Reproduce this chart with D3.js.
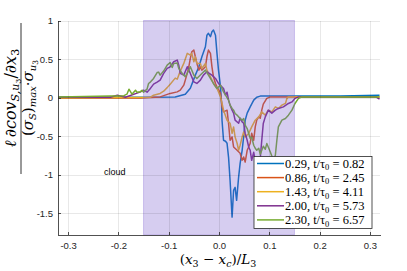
<!DOCTYPE html>
<html lang="en">
<head>
  <meta charset="UTF-8">
  <title>Normalised gradient of scalar-velocity covariance</title>
  <style>
    body { margin: 0; background: #fff; }
    svg { display: block; }
    .tick text { font-family: "Liberation Sans", Arial, sans-serif; font-size: 9.5px; fill: #262626; }
    .axis path, .axis line { stroke: #262626; stroke-width: 0.8; shape-rendering: crispEdges; }
    .grid line { stroke: #000; stroke-opacity: 0.09; shape-rendering: crispEdges; }
    .grid path { display: none; }
    .math { font-family: "Liberation Serif", "DejaVu Serif", serif; fill: #000; }
    .label { font-family: "DejaVu Serif", serif; fill: #000; }
  </style>
  <script src="https://d3js.org/d3.v7.min.js"></script>
</head>
<body>
<svg id="chart" width="407" height="271"></svg>
<script>
  // tick labels
  const xTicks = [-0.3, -0.2, -0.1, 0.0, 0.1, 0.2, 0.3];
  const xTickLabels = ["-0.3", "-0.2", "-0.1", "0.0", "0.1", "0.2", "0.3"];
  const yTicks = [1, 0.5, 0, -0.5, -1, -1.5];
  const yTickLabels = ["1", "0.5", "0", "-0.5", "-1", "-1.5"];

  // cloud region (shaded)
  const cloudRange = [-0.15, 0.15];

  // legend labels
  const seriesNames = ["0.29", "0.86", "1.43", "2.00", "2.30"];
  const seriesTimes = ["0.82", "2.45", "4.11", "5.73", "6.57"];

  // series values
  const blueX = [-0.319, -0.136, -0.087, -0.067, -0.057, -0.047, -0.040, -0.034, -0.027, -0.024, -0.021, -0.017, -0.014, -0.011, -0.007, -0.004, -0.001, 0.003, 0.005, 0.006, 0.009, 0.013, 0.016, 0.019, 0.022, 0.026, 0.029, 0.032, 0.035, 0.039, 0.042, 0.046, 0.049, 0.052, 0.056, 0.062, 0.069, 0.075, 0.082, 0.161, 0.241, 0.319];
  const blueY = [0.005, 0.005, 0.008, 0.045, 0.123, 0.292, 0.40, 0.53, 0.66, 0.81, 0.834, 0.79, 0.855, 0.877, 0.81, 0.574, 0.357, 0.14, -0.071, -0.292, -0.552, -0.565, -0.591, -0.773, -1.071, -1.548, -1.201, -1.162, -1.331, -1.029, -0.851, -0.682, -0.509, -0.292, -0.201, -0.119, -0.032, 0.006, 0.02, 0.02, 0.022, 0.032];

  const redX = [-0.319, -0.156, -0.117, -0.097, -0.083, -0.077, -0.070, -0.067, -0.063, -0.060, -0.057, -0.054, -0.050, -0.047, -0.044, -0.040, -0.037, -0.034, -0.027, -0.024, -0.021, -0.017, -0.014, -0.011, -0.007, -0.004, 0.003, 0.006, 0.009, 0.016, 0.019, 0.022, 0.026, 0.029, 0.036, 0.042, 0.046, 0.049, 0.052, 0.056, 0.059, 0.062, 0.065, 0.069, 0.072, 0.075, 0.079, 0.082, 0.085, 0.088, 0.095, 0.102, 0.201, 0.319];
  const redY = [-0.006, -0.006, 0.01, 0.055, 0.075, 0.097, 0.162, 0.227, 0.318, 0.40, 0.509, 0.595, 0.617, 0.53, 0.444, 0.357, 0.40, 0.357, 0.40, 0.53, 0.617, 0.574, 0.40, 0.27, 0.184, 0.14, 0.055, -0.119, -0.184, -0.162, -0.335, -0.552, -0.509, -0.639, -0.682, -0.721, -0.812, -0.769, -0.834, -0.682, -0.639, -0.591, -0.461, -0.552, -0.379, -0.292, -0.249, -0.266, -0.162, -0.084, -0.01, 0.01, 0.01, 0.01];

  const orangeX = [-0.319, -0.136, -0.130, -0.117, -0.110, -0.103, -0.097, -0.087, -0.083, -0.077, -0.070, -0.063, -0.057, -0.054, -0.050, -0.047, -0.044, -0.037, -0.034, -0.027, -0.024, -0.017, -0.011, -0.004, -0.001, 0.003, 0.006, 0.009, 0.016, 0.022, 0.026, 0.029, 0.032, 0.036, 0.039, 0.042, 0.046, 0.049, 0.052, 0.059, 0.065, 0.072, 0.079, 0.085, 0.092, 0.098, 0.105, 0.112, 0.118, 0.125, 0.132, 0.135, 0.138, 0.221, 0.319];
  const orangeY = [0, 0.006, 0.032, 0.055, 0.084, 0.13, 0.175, 0.253, 0.24, 0.344, 0.444, 0.574, 0.552, 0.574, 0.465, 0.53, 0.444, 0.444, 0.379, 0.444, 0.357, 0.27, 0.184, 0.119, 0.075, 0.01, -0.071, -0.162, -0.292, -0.331, -0.461, -0.379, -0.509, -0.591, -0.682, -0.617, -0.509, -0.444, -0.509, -0.465, -0.379, -0.292, -0.249, -0.184, -0.227, -0.162, -0.184, -0.119, -0.14, -0.097, -0.075, -0.01, 0.01, 0.01, 0.01];

  const purpleX = [-0.319, -0.216, -0.202, -0.186, -0.156, -0.150, -0.143, -0.136, -0.130, -0.123, -0.117, -0.110, -0.103, -0.097, -0.090, -0.083, -0.080, -0.077, -0.070, -0.063, -0.057, -0.050, -0.044, -0.037, -0.031, -0.024, -0.014, -0.007, -0.001, 0.009, 0.013, 0.016, 0.019, 0.022, 0.026, 0.029, 0.032, 0.039, 0.042, 0.046, 0.049, 0.052, 0.056, 0.059, 0.062, 0.065, 0.069, 0.072, 0.079, 0.082, 0.085, 0.088, 0.092, 0.098, 0.105, 0.112, 0.118, 0.128, 0.138, 0.145, 0.151, 0.158, 0.30, 0.312, 0.319];
  const purpleY = [0.006, 0.006, 0.032, 0.006, 0.075, 0.097, 0.071, 0.123, 0.175, 0.201, 0.227, 0.314, 0.379, 0.40, 0.465, 0.487, 0.422, 0.314, 0.292, 0.40, 0.314, 0.205, 0.184, 0.227, 0.292, 0.335, 0.292, 0.249, 0.184, 0.119, 0.032, 0.071, -0.032, -0.097, -0.162, -0.201, -0.292, -0.331, -0.266, -0.314, -0.331, -0.461, -0.552, -0.639, -0.682, -0.812, -0.708, -0.812, -0.89, -0.786, -0.552, -0.335, -0.249, -0.162, -0.201, -0.162, -0.14, -0.119, -0.075, -0.055, -0.01, 0.01, 0.01, 0.01, -0.02];

  const greenX = [-0.319, -0.216, -0.189, -0.183, -0.179, -0.176, -0.173, -0.166, -0.163, -0.156, -0.153, -0.150, -0.143, -0.140, -0.136, -0.130, -0.123, -0.120, -0.117, -0.110, -0.103, -0.097, -0.093, -0.090, -0.083, -0.080, -0.073, -0.067, -0.060, -0.057, -0.050, -0.044, -0.034, -0.027, -0.021, -0.011, -0.004, 0.003, 0.009, 0.013, 0.019, 0.022, 0.026, 0.029, 0.032, 0.036, 0.039, 0.046, 0.049, 0.052, 0.056, 0.059, 0.062, 0.065, 0.069, 0.072, 0.075, 0.079, 0.082, 0.085, 0.088, 0.092, 0.095, 0.102, 0.108, 0.112, 0.115, 0.118, 0.125, 0.132, 0.138, 0.145, 0.151, 0.158, 0.165, 0.319];
  const greenY = [0.01, 0.02, 0.026, 0.045, 0.11, 0.078, 0.045, 0.097, 0.071, 0.078, 0.097, 0.071, 0.11, 0.184, 0.205, 0.249, 0.325, 0.331, 0.292, 0.344, 0.422, 0.455, 0.39, 0.444, 0.448, 0.379, 0.314, 0.27, 0.357, 0.40, 0.292, 0.249, 0.314, 0.357, 0.292, 0.184, 0.119, 0.162, 0.075, 0.032, -0.032, -0.097, -0.14, -0.162, -0.205, -0.227, -0.249, -0.292, -0.27, -0.357, -0.40, -0.465, -0.526, -0.513, -0.617, -0.656, -0.682, -0.656, -0.734, -0.682, -0.63, -0.669, -0.595, -0.704, -0.812, -0.747, -0.552, -0.379, -0.292, -0.27, -0.227, -0.162, -0.075, -0.01, 0.01, 0.01];

  const seriesColors = ["#0072BD", "#D95319", "#EDB120", "#7E2F8E", "#77AC30"];

  const series = [
    {xs: blueX, ys: blueY},
    {xs: redX, ys: redY},
    {xs: orangeX, ys: orangeY},
    {xs: purpleX, ys: purpleY},
    {xs: greenX, ys: greenY}
  ].map((s, i) => ({
    name: seriesNames[i],
    time: seriesTimes[i],
    color: seriesColors[i],
    points: s.xs.map((x, j) => [x, s.ys[j]])
  }));

  const margin = {top: 20.5, right: 27, bottom: 36, left: 58};
  const width = 407, height = 271;

  const x = d3.scaleLinear()
    .domain([-0.32, 0.32])
    .range([margin.left, width - margin.right]);

  const y = d3.scaleLinear()
    .domain([-1.78, 1])
    .range([height - margin.bottom, margin.top]);

  const svg = d3.select("#chart");

  // data lines
  const line = d3.line().x(d => x(d[0])).y(d => y(d[1]));
  svg.append("g").selectAll("path")
    .data(series)
    .join("path")
    .attr("d", d => line(d.points))
    .attr("fill", "none")
    .attr("stroke", d => d.color)
    .attr("stroke-width", 1.5)
    .attr("stroke-linejoin", "round");

  // cloud patch on top of the lines (semi-transparent)
  svg.append("rect")
    .attr("x", x(cloudRange[0]))
    .attr("y", y(1))
    .attr("width", x(cloudRange[1]) - x(cloudRange[0]))
    .attr("height", y(-1.78) - y(1))
    .attr("fill", "rgb(118,88,205)")
    .attr("fill-opacity", 0.3)
    .attr("stroke", "rgb(118,88,205)")
    .attr("stroke-opacity", 0.3)
    .attr("stroke-width", 1);

  // faint grid
  const gridG = svg.append("g");
  gridG.append("g")
    .attr("class", "grid")
    .attr("transform", `translate(0,${y(-1.78)})`)
    .call(d3.axisBottom(x).tickValues(xTicks).tickSize(-(y(-1.78) - y(1))).tickFormat(""));
  gridG.append("g")
    .attr("class", "grid")
    .attr("transform", `translate(${x(-0.32)},0)`)
    .call(d3.axisLeft(y).tickValues(yTicks).tickSize(-(x(0.32) - x(-0.32))).tickFormat(""));

  // axes (ticks point inward)
  svg.append("g")
    .attr("class", "axis")
    .attr("transform", `translate(0,${y(-1.78)})`)
    .call(d3.axisBottom(x).tickValues(xTicks).tickFormat((d, i) => xTickLabels[i])
      .tickSizeInner(-3).tickSizeOuter(0).tickPadding(7));

  svg.append("g")
    .attr("class", "axis")
    .attr("transform", `translate(${x(-0.32)},0)`)
    .call(d3.axisLeft(y).tickValues(yTicks).tickFormat((d, i) => yTickLabels[i])
      .tickSizeInner(-3).tickSizeOuter(0).tickPadding(5));

  // "cloud" annotation
  svg.append("text")
    .attr("x", x(-0.207))
    .attr("y", y(-1.0))
    .attr("text-anchor", "middle")
    .attr("font-family", "Liberation Sans, Arial, sans-serif")
    .attr("font-size", 9)
    .attr("fill", "#000")
    .text("cloud");

  // x label: (x_3 - x_c)/L_3
  const xl = svg.append("text")
    .attr("class", "label")
    .attr("x", 218)
    .attr("y", 264)
    .attr("text-anchor", "middle")
    .attr("font-size", 13.5);
  xl.append("tspan").text("(");
  xl.append("tspan").attr("font-style", "italic").text("x");
  xl.append("tspan").attr("font-size", 9.5).attr("dy", 2.5).text("3");
  xl.append("tspan").attr("dy", -2.5).text(" \u2212 ");
  xl.append("tspan").attr("font-style", "italic").text("x");
  xl.append("tspan").attr("font-size", 9.5).attr("font-style", "italic").attr("dy", 2.5).text("c");
  xl.append("tspan").attr("dy", -2.5).text(")/");
  xl.append("tspan").attr("font-style", "italic").text("L");
  xl.append("tspan").attr("font-size", 9.5).attr("dy", 2.5).text("3");

  // y label: fraction, rotated
  const yl = svg.append("g").attr("transform", "translate(21,98) rotate(-90)");
  const num = yl.append("text")
    .attr("class", "label")
    .attr("y", -5)
    .attr("text-anchor", "middle")
    .attr("font-size", 16)
    .attr("font-style", "italic");
  num.append("tspan").text("\u2113\u2009\u2202cov");
  num.append("tspan").attr("font-size", 11).attr("dy", 3).text("S,u");
  num.append("tspan").attr("font-size", 8).attr("dy", 2).attr("font-style", "normal").text("3");
  num.append("tspan").attr("dy", -5).attr("font-style", "normal").text("/");
  num.append("tspan").text("\u2202x");
  num.append("tspan").attr("font-size", 11).attr("font-style", "normal").attr("dy", 3).text("3");

  yl.append("line")
    .attr("x1", -76).attr("x2", 75)
    .attr("y1", 0).attr("y2", 0)
    .attr("stroke", "#000").attr("stroke-width", 0.8);

  const den = yl.append("text")
    .attr("class", "label")
    .attr("y", 12)
    .attr("text-anchor", "middle")
    .attr("font-size", 15)
    .attr("font-style", "italic");
  den.append("tspan").attr("font-style", "normal").text("(");
  den.append("tspan").text("\u03C3");
  den.append("tspan").attr("font-size", 10).attr("dy", 3).text("S");
  den.append("tspan").attr("dy", -3).attr("font-style", "normal").text(")");
  den.append("tspan").attr("font-size", 10).attr("dy", 3).text("max");
  den.append("tspan").attr("dy", -3).attr("font-style", "normal").text("\u00B7");
  den.append("tspan").text("\u03C3");
  den.append("tspan").attr("font-size", 10).attr("dy", 3).text("u");
  den.append("tspan").attr("font-size", 7.5).attr("dy", 2).attr("font-style", "normal").text("3");

  // legend
  const leg = svg.append("g").attr("transform", "translate(254,156.5)");
  leg.append("rect")
    .attr("width", 118).attr("height", 72)
    .attr("fill", "#fff")
    .attr("stroke", "#262626").attr("stroke-width", 0.8);
  const rows = leg.selectAll("g.row")
    .data(series)
    .join("g")
    .attr("class", "row")
    .attr("transform", (d, i) => `translate(0,${7 + i * 14.1})`);
  rows.append("line")
    .attr("x1", 3).attr("x2", 30)
    .attr("stroke", d => d.color).attr("stroke-width", 1.5);
  const lt = rows.append("text")
    .attr("class", "math")
    .attr("x", 31)
    .attr("y", 4.3)
    .attr("font-size", 12.5);
  lt.append("tspan").text(d => d.name + ", t/\u03C4");
  lt.append("tspan").attr("font-size", 8.5).attr("dy", 2.5).text("0");
  lt.append("tspan").attr("dy", -2.5).text(d => " = " + d.time);
</script>
</body>
</html>
